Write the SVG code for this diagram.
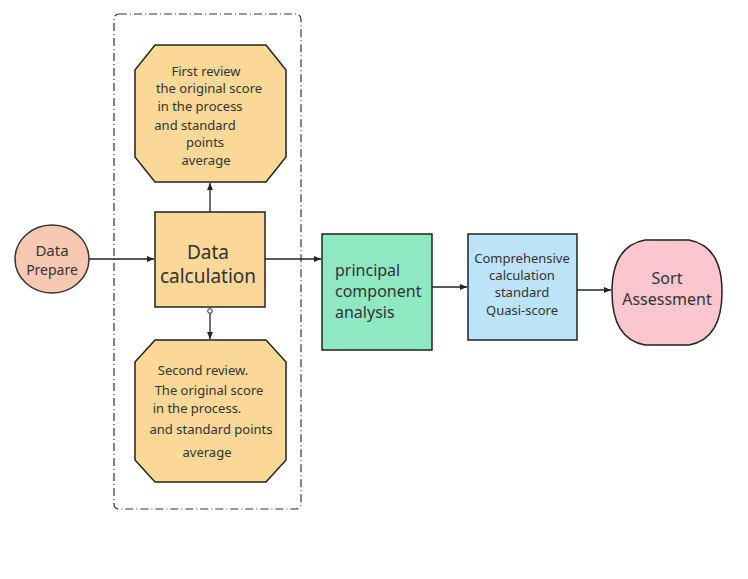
<svg xmlns="http://www.w3.org/2000/svg" width="748" height="579" viewBox="0 0 748 579">
<defs>
<style>
.t{font-family:"Noto Sans","Liberation Sans",sans-serif;fill:#333;text-anchor:middle}
.e{stroke:#222;stroke-width:1.3;fill:none}
.o{fill:#fad897;stroke:#222;stroke-width:1.5}
</style>
<marker id="a" markerWidth="8" markerHeight="8" refX="7" refY="4" orient="auto" markerUnits="userSpaceOnUse"><path d="M0,1 L7,4 L0,7z" fill="#222"/></marker>
</defs>
<rect width="748" height="579" fill="#fff"/>
<rect x="114" y="14" width="187" height="495" rx="5" fill="none" stroke="#333" stroke-width="1.2" stroke-dasharray="8,3,1,3"/>
<g id="connectors">
<line class="e" x1="89" y1="259" x2="154" y2="259" marker-end="url(#a)"/>
<line class="e" x1="210" y1="212" x2="210" y2="183" marker-end="url(#a)"/>
<line class="e" x1="210" y1="313" x2="210" y2="339" marker-end="url(#a)"/>
<circle cx="210" cy="311" r="2.3" fill="#fff" stroke="#222" stroke-width="1"/>
<line class="e" x1="265" y1="259" x2="321" y2="259" marker-end="url(#a)"/>
<line class="e" x1="432" y1="287" x2="467" y2="287" marker-end="url(#a)"/>
<line class="e" x1="577" y1="290" x2="611" y2="290" marker-end="url(#a)"/>
</g>
<g id="prepare"><ellipse cx="52" cy="259" rx="37" ry="34" fill="#f8c9b2" stroke="#333" stroke-width="1.5"/>
<text class="t" x="52" y="256" font-size="15">Data</text><text class="t" x="52" y="275" font-size="14">Prepare</text></g>
<g id="first"><path class="o" d="M155,45 H266 L286,70 V157 L266,182 H155 L135,157 V70 Z"/>
<text class="t" font-size="13"><tspan x="206" y="76">First review</tspan><tspan x="209" y="93">the original score</tspan><tspan x="200" y="111">in the process</tspan><tspan x="195" y="130">and standard</tspan><tspan x="205" y="147">points</tspan><tspan x="206" y="165">average</tspan></text></g>
<g id="calc"><rect x="155" y="212" width="110" height="95" fill="#fad897" stroke="#222" stroke-width="1.5"/>
<text class="t" font-size="19"><tspan x="208" y="259">Data</tspan><tspan x="208" y="283">calculation</tspan></text></g>
<g id="second"><path class="o" d="M155,340 H266 L286,362 V460 L266,482 H155 L135,460 V362 Z"/>
<text class="t" font-size="13"><tspan x="203" y="375">Second review.</tspan><tspan x="209" y="395">The original score</tspan><tspan x="197" y="413">in the process.</tspan><tspan x="211" y="434">and standard points</tspan><tspan x="207" y="457">average</tspan></text></g>
<g id="pca"><rect x="322" y="234" width="110" height="116" fill="#8ee8c2" stroke="#222" stroke-width="1.5"/>
<text class="t" font-size="16" style="text-anchor:start"><tspan x="335" y="276">principal</tspan><tspan x="335" y="297">component</tspan><tspan x="335" y="318">analysis</tspan></text></g>
<g id="comp"><rect x="468" y="234" width="109" height="106" fill="#bde3f9" stroke="#222" stroke-width="1.5"/>
<text class="t" font-size="13"><tspan x="522" y="263">Comprehensive</tspan><tspan x="522" y="280">calculation</tspan><tspan x="522" y="297">standard</tspan><tspan x="522" y="315">Quasi-score</tspan></text></g>
<g id="sort"><path d="M645,240 H689 Q722,246 722,292 Q722,339 689,345 H645 Q612,339 612,292 Q612,246 645,240 Z" fill="#fbc6cd" stroke="#222" stroke-width="1.5"/>
<text class="t" font-size="16"><tspan x="667" y="284">Sort</tspan><tspan x="667" y="305">Assessment</tspan></text></g>
</svg>
